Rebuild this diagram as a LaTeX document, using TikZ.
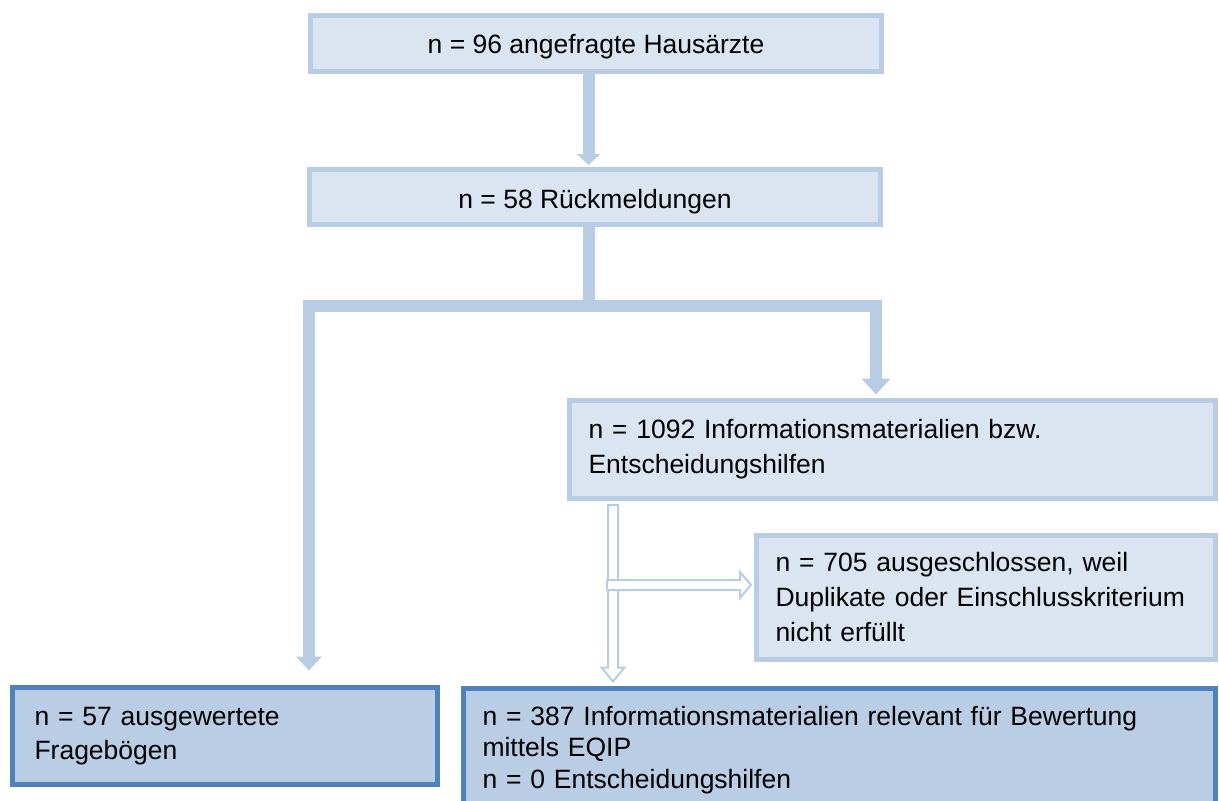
\documentclass[tikz,border=0pt]{standalone}
\usepackage{fontspec}
\setmainfont{Liberation Sans}
\usetikzlibrary{arrows.meta,calc}
\definecolor{lb}{HTML}{B8CCE4}
\definecolor{lf}{HTML}{DBE5F1}
\definecolor{db}{HTML}{4F81BD}
\definecolor{df}{HTML}{B9CDE5}
\newcommand\hollowarrowdown[2]{%
  \draw[hollowarrow] let \p1=(#1), \p2=(#2) in
    (\x1-5pt,\y1) -- (\x1-5pt,\y2+14pt) -- (\x1-11.5pt,\y2+14pt) -- (\x1,\y2)
    -- (\x1+11.5pt,\y2+14pt) -- (\x1+5pt,\y2+14pt) -- (\x1+5pt,\y1) -- cycle;}
\newcommand\hollowarrowright[2]{%
  \draw[hollowarrow] let \p1=(#1), \p2=(#2) in
    (\x1,\y1+5pt) -- (\x2-11pt,\y1+5pt) -- (\x2-11pt,\y1+13pt) -- (\x2,\y1)
    -- (\x2-11pt,\y1-13pt) -- (\x2-11pt,\y1-5pt) -- (\x1,\y1-5pt) -- cycle;}
\begin{document}
\begin{tikzpicture}[x=1pt,y=-1pt,
  lightbox/.style={draw=lb, fill=lf, line width=5pt, rectangle, inner sep=0pt},
  darkbox/.style={draw=db, fill=df, line width=5pt, rectangle, inner sep=0pt},
  txt/.style={font=\fontsize{26.5}{35}\selectfont},
  leftbox/.style={inner xsep=19pt, inner ysep=0pt, align=left},
  barline/.style={draw=lb, line width=12pt, line join=miter},
  hollowarrow/.style={draw=lb, line width=2pt, fill=white, line join=miter}]
\useasboundingbox (0,0) rectangle (1219,801);
\clip (0,0) rectangle (1219,801);

% boxes
\node[lightbox, txt, minimum width=571pt, minimum height=56pt, text height=20pt, text depth=0pt] (B1) at (596,43.5) {n = 96 angefragte Hausärzte};
\node[lightbox, txt, minimum width=571pt, minimum height=55pt, text height=22.5pt, text depth=0pt] (B2) at (595,197) {n = 58 Rückmeldungen};
\node[lightbox, txt, leftbox, minimum width=646pt, minimum height=98pt, text width=608pt] (B3) at (892.5,449.5)
  {\mbox{n = 1092 Informationsmaterialien bzw.}\\\mbox{Entscheidungshilfen}};
\node[lightbox, txt, leftbox, minimum width=459pt, minimum height=124pt, text width=421pt] (B4) at (986,597.5)
  {\mbox{n = 705 ausgeschlossen, weil}\\\mbox{Duplikate oder Einschlusskriterium}\\\mbox{nicht erfüllt}};
\node[darkbox, leftbox, font=\fontsize{26.5}{34}\selectfont, minimum width=425pt, minimum height=97pt, text width=381pt, inner xsep=21pt] (B5) at (225,736)
  {\mbox{n = 57 ausgewertete}\\\mbox{Fragebögen}};
\node[darkbox, leftbox, font=\fontsize{26.5}{31.5}\selectfont, minimum width=752pt, minimum height=123pt, text width=714pt] (B6) at (839.5,750)
  {\mbox{n = 387 Informationsmaterialien relevant für Bewertung}\\\mbox{mittels EQIP}\\\mbox{n = 0 Entscheidungshilfen}};

% solid connectors
\coordinate (S) at (588.5,305.5);
\coordinate (L) at (309,305.5);
\coordinate (R) at (876,305.5);
\draw[barline, -{Triangle[width=23pt,length=11pt]}, shorten >=2pt] (B1.south -| S) -- (B2.north -| S);
\draw[barline] (B2.south -| S) -- (S);
\draw[barline, -{Triangle[width=25pt,length=14pt]}, shorten >=14.5pt] (S) -- (L) -- (L |- B5.north);
\draw[barline, -{Triangle[width=28pt,length=16pt]}, shorten >=3.5pt] (S) -- (R) -- (R |- B3.north);

% hollow connectors
\coordinate (V) at (613,0);
\coordinate (v0) at ($(B3.south -| V)+(0,4)$);
\coordinate (v1) at ($(B6.north -| V)+(0,-4.5)$);
\hollowarrowdown{v0}{v1}
\coordinate (h0) at (607,585);
\coordinate (h1) at ($(B4.west |- h0)+(-3,0)$);
\hollowarrowright{h0}{h1}
\end{tikzpicture}
\end{document}
